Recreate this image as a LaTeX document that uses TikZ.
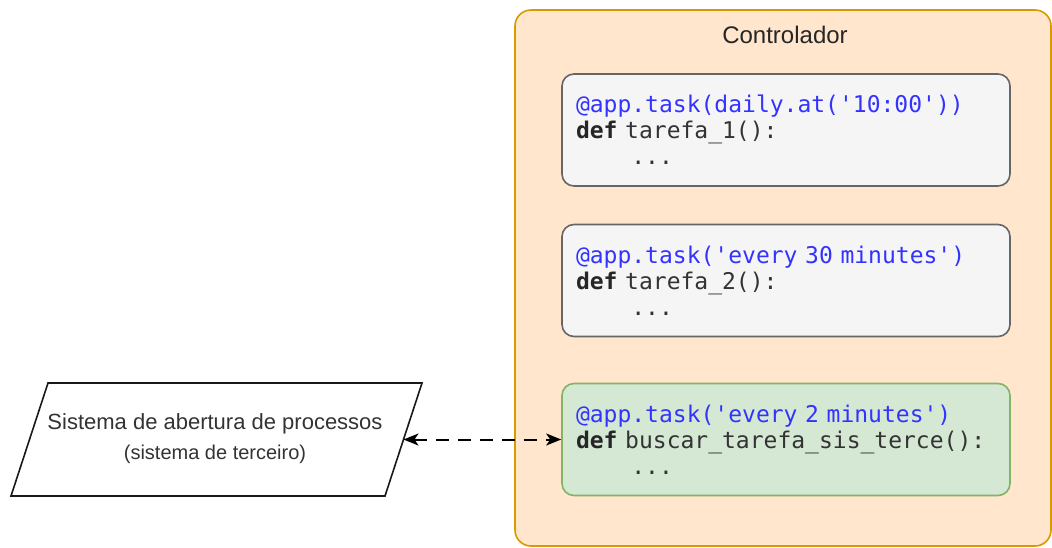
\documentclass[tikz,border=0pt]{standalone}
\usepackage{fontspec}
\setmainfont{Liberation Sans}
\setmonofont{DejaVu Sans Mono}
\usetikzlibrary{arrows.meta}

\definecolor{ctrlfill}{HTML}{FFE6CC}
\definecolor{ctrldraw}{HTML}{D79B00}
\definecolor{taskfill}{HTML}{F5F5F5}
\definecolor{taskdraw}{HTML}{666666}
\definecolor{syncfill}{HTML}{D5E8D4}
\definecolor{syncdraw}{HTML}{82B366}
\definecolor{decoblue}{RGB}{51,51,255}
\definecolor{codegray}{HTML}{333333}

\newcommand{\deco}[1]{\textcolor{decoblue}{#1}}
\newcommand{\kw}[1]{\textbf{\color{black!85}#1}}
\newcommand{\codetab}{\hphantom{0000}}

\tikzset{
	taskbox/.style={draw=taskdraw, fill=taskfill, line width=1.6pt, rounded corners=12pt,
		minimum width=448pt, minimum height=112pt, text width=420pt, align=left,
		inner sep=0pt, text=codegray, font=\ttfamily\fontsize{23}{26}\selectfont},
	syncbox/.style={taskbox, draw=syncdraw, fill=syncfill}
}

\begin{document}
\begin{tikzpicture}[x=1pt,y=-1pt]
		\useasboundingbox (0,0) rectangle (1052,547);
		
		%controller
		\draw[ctrldraw, fill=ctrlfill, line width=1.6pt, rounded corners=16pt] (515,10) rectangle (1051,546);
		\node[font=\fontsize{24}{28}\selectfont, text=black!85] (title) at (785,35) {Controlador};
		
		%tasks
		\node[taskbox] (t1) at (786,130) {\deco{@app.task(daily.at('10:00'))}\\\kw{def} tarefa\_1():\\\codetab...};
		\node[taskbox] (t2) at (786,280.5) {\deco{@app.task('every 30 minutes')}\\\kw{def} tarefa\_2():\\\codetab...};
		\node[syncbox] (t3) at (786,439.5) {\deco{@app.task('every 2 minutes')}\\\kw{def} buscar\_tarefa\_sis\_terce():\\\codetab...};
		
		%external system
		\draw[black!90, line width=1.6pt] (48,383) -- (422,383) -- (385,496) -- (11,496) -- cycle;
		\coordinate (sysedge) at (403.5,439.5);
		\node[align=center, text=codegray, font=\fontsize{22}{30}\selectfont] (sys) at (215,439) {Sistema de abertura de processos\\{\fontsize{20}{24}\selectfont (sistema de terceiro)}};
		
		%link
		\draw[{Stealth[length=15pt,width=12pt,inset=4pt]}-{Stealth[length=15pt,width=12pt,inset=4pt]}, line width=2pt, dash pattern=on 13pt off 9pt] (sysedge) -- (t3.west);
		
\end{tikzpicture}
\end{document}
